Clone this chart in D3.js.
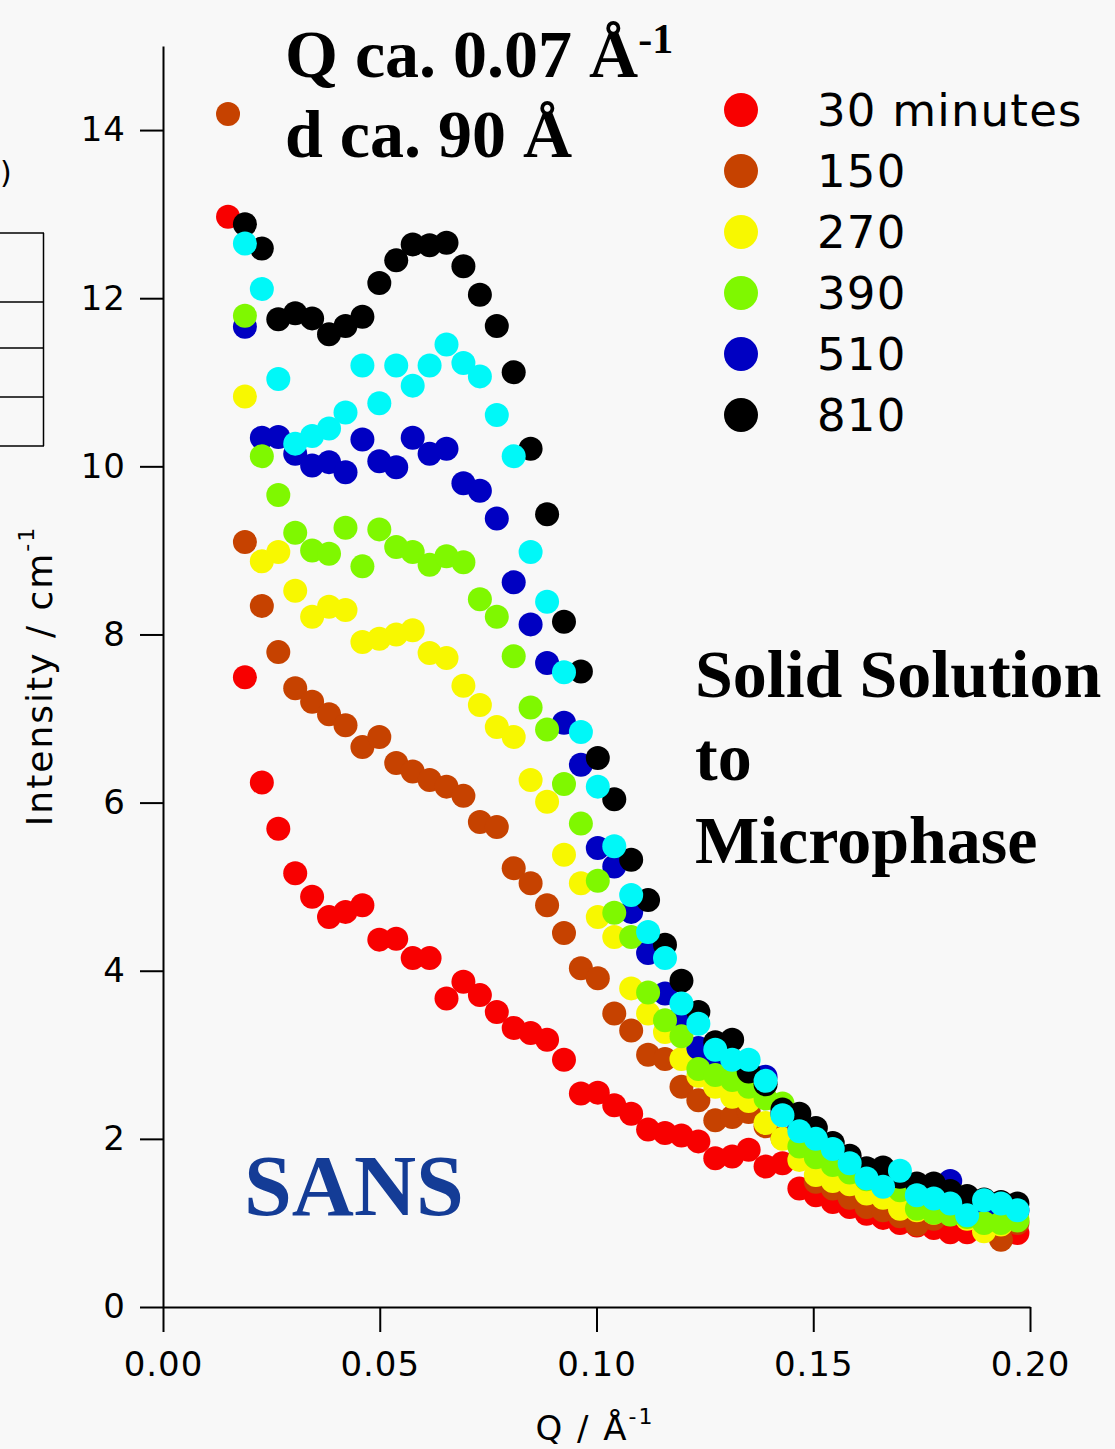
<!DOCTYPE html>
<html>
<head>
<meta charset="utf-8">
<script src="https://cdn.jsdelivr.net/npm/d3@7"></script>
<style>
	body { margin: 0; background: #f8f8f8; }
	svg { display: block; }
</style>
</head>
<body>
<svg id="chart" width="1115" height="1449"></svg>
<script>

// Data

var qValues = [0.0150, 0.0189, 0.0228, 0.0266, 0.0305, 0.0344, 0.0383, 0.0421, 0.0460, 0.0499,
	0.0538, 0.0576, 0.0615, 0.0654, 0.0693, 0.0731, 0.0770, 0.0809, 0.0848, 0.0886,
	0.0925, 0.0964, 0.1003, 0.1041, 0.1080, 0.1119, 0.1158, 0.1196, 0.1235, 0.1274,
	0.1313, 0.1351, 0.1390, 0.1429, 0.1468, 0.1506, 0.1545, 0.1584, 0.1623, 0.1661,
	0.1700, 0.1739, 0.1778, 0.1816, 0.1855, 0.1894, 0.1933, 0.1971];

var int30 = [12.97, 7.49, 6.24, 5.69, 5.16, 4.88, 4.64, 4.70, 4.78, 4.37,
	4.38, 4.15, 4.15, 3.67, 3.87, 3.71, 3.51, 3.32, 3.26, 3.18,
	2.94, 2.54, 2.55, 2.40, 2.30, 2.11, 2.07, 2.04, 1.97, 1.77,
	1.79, 1.87, 1.67, 1.71, 1.41, 1.33, 1.25, 1.19, 1.11, 1.06,
	1.00, 0.97, 0.94, 0.89, 0.89, 0.92, 0.90, 0.88];

var int150 = [14.19, 9.10, 8.34, 7.79, 7.36, 7.20, 7.05, 6.92, 6.66, 6.78,
	6.47, 6.37, 6.27, 6.19, 6.08, 5.77, 5.71, 5.22, 5.04, 4.78,
	4.45, 4.03, 3.91, 3.49, 3.29, 3.00, 2.95, 2.62, 2.46, 2.22,
	2.26, 2.32, 2.15, 2.01, 1.77, 1.49, 1.41, 1.30, 1.19, 1.15,
	1.08, 0.98, 1.05, 1.10, 1.29, 0.95, 0.80, 1.00];

var int270 = [null, 10.83, 8.87, 8.98, 8.52, 8.21, 8.33, 8.29, 7.91, 7.95,
	8.00, 8.05, 7.78, 7.72, 7.39, 7.16, 6.90, 6.78, 6.27, 6.01,
	5.38, 5.04, 4.64, 4.40, 3.79, 3.49, 3.27, 2.95, 2.75, 2.62,
	2.50, 2.45, 2.19, 2.00, 1.75, 1.57, 1.50, 1.46, 1.35, 1.30,
	1.17, 1.15, 1.12, 1.42, 1.05, 0.90, 0.98, 1.05];

var int390 = [null, 11.79, 10.12, 9.66, 9.21, 9.00, 8.96, 9.27, 8.81, 9.25,
	9.04, 8.98, 8.83, 8.93, 8.86, 8.42, 8.21, 7.74, 7.13, 6.87,
	6.22, 5.75, 5.07, 4.69, 4.40, 3.74, 3.41, 3.22, 2.83, 2.76,
	2.70, 2.62, 2.48, 2.42, 1.91, 1.78, 1.69, 1.60, 1.52, 1.45,
	1.39, 1.17, 1.12, 1.10, 1.07, 1.00, 1.00, 1.03];

var int510 = [null, 11.66, 10.34, 10.35, 10.15, 10.01, 10.05, 9.93, 10.32, 10.06,
	9.99, 10.34, 10.15, 10.21, 9.80, 9.71, 9.38, 8.62, 8.12, 7.66,
	6.95, 6.45, 5.46, 5.24, 4.70, 4.21, 3.73, 3.45, 3.08, 2.92,
	2.85, 2.80, 2.74, 2.30, 2.15, 2.00, 1.85, 1.70, 1.55, 1.45,
	1.50, 1.35, 1.30, 1.50, 1.20, 1.20, 1.15, 1.15];

var int810 = [null, 12.88, 12.59, 11.75, 11.82, 11.76, 11.57, 11.67, 11.78, 12.18,
	12.45, 12.64, 12.63, 12.66, 12.38, 12.04, 11.67, 11.12, 10.21, 9.43,
	8.15, 7.56, 6.53, 6.04, 5.32, 4.84, 4.31, 3.88, 3.51, 3.15,
	3.18, 2.80, 2.65, 2.35, 2.30, 2.13, 1.95, 1.80, 1.65, 1.66,
	1.55, 1.47, 1.47, 1.38, 1.32, 1.28, 1.25, 1.23];

// cyan run is on the plot but not in the legend
var intExtra = [null, 12.65, 12.11, 11.04, 10.27, 10.36, 10.45, 10.64, 11.20, 10.75,
	11.20, 10.96, 11.20, 11.45, 11.23, 11.07, 10.61, 10.12, 8.98, 8.39,
	7.55, 6.84, 6.19, 5.48, 4.90, 4.46, 4.15, 3.61, 3.37, 3.06,
	2.94, 2.94, 2.69, 2.28, 2.09, 2.00, 1.88, 1.71, 1.53, 1.43,
	1.62, 1.33, 1.29, 1.23, 1.09, 1.27, 1.23, 1.15];

var legendLabels = ["30 minutes", "150", "270", "390", "510", "810"];
var legendColors = ["#f80000", "#c64200", "#f8f800", "#7ff800", "#0000c2", "#000000"];

var xTicks = [0, 0.05, 0.10, 0.15, 0.20];
var yTicks = [0, 2, 4, 6, 8, 10, 12, 14];

// draw order seen on the plot (green over blue, black over blue, cyan on top)
var series = [
	{ values: int30, color: legendColors[0] },
	{ values: int150, color: legendColors[1] },
	{ values: int270, color: legendColors[2] },
	{ values: int510, color: legendColors[4] },
	{ values: int390, color: legendColors[3] },
	{ values: int810, color: legendColors[5] },
	{ values: intExtra, color: "#00f8f8" }
];

var svg = d3.select("#chart");

svg.append("rect")
	.attr("width", 1115)
	.attr("height", 1449)
	.attr("fill", "#f8f8f8");

var x = d3.scaleLinear().domain([0, 0.2]).range([163, 1030]);
var y = d3.scaleLinear().domain([0, 15]).range([1307, 46]);

// bits of the neighbouring slide element at the left edge
var edge = svg.append("g")
	.attr("stroke", "#000")
	.attr("stroke-width", 1.5)
	.attr("fill", "none");

edge.append("line").attr("x1", 43.5).attr("x2", 43.5).attr("y1", 233).attr("y2", 446);
[233, 302, 348, 397, 446].forEach(function (ly) {
	edge.append("line").attr("x1", 0).attr("x2", 44).attr("y1", ly).attr("y2", ly);
});

svg.append("text")
	.attr("x", 0)
	.attr("y", 183)
	.style("font-family", "DejaVu Sans")
	.style("font-size", "30px")
	.text(")");

// Axes

var yAxis = d3.axisLeft(y)
	.tickValues(yTicks)
	.tickFormat(d3.format("d"))
	.tickSize(23)
	.tickSizeOuter(0)
	.tickPadding(14);

var xAxis = d3.axisBottom(x)
	.tickValues(xTicks)
	.tickFormat(d3.format(".2f"))
	.tickSize(25)
	.tickSizeOuter(0)
	.tickPadding(20);

var gy = svg.append("g")
	.attr("transform", "translate(163,0)")
	.call(yAxis);

var gx = svg.append("g")
	.attr("transform", "translate(0,1307)")
	.call(xAxis);

[gx, gy].forEach(function (g) {
	g.selectAll("path, line")
		.attr("stroke", "#000")
		.attr("stroke-width", 2);
	g.selectAll("text")
		.attr("fill", "#000")
		.style("font-family", "DejaVu Sans")
		.style("font-size", "34px")
		.style("letter-spacing", "1px");
});

var xTitle = svg.append("text")
	.attr("x", 595)
	.attr("y", 1440)
	.attr("text-anchor", "middle")
	.style("font-family", "DejaVu Sans")
	.style("font-size", "34px")
	.style("letter-spacing", "2px");
xTitle.append("tspan").text("Q / Å");
xTitle.append("tspan").attr("dy", -16).style("font-size", "22px").text("-1");

var yTitle = svg.append("text")
	.attr("transform", "translate(52,676) rotate(-90)")
	.attr("text-anchor", "middle")
	.style("font-family", "DejaVu Sans")
	.style("font-size", "36px")
	.style("letter-spacing", "2px");
yTitle.append("tspan").text("Intensity / cm");
yTitle.append("tspan").attr("dy", -18).style("font-size", "22px").text("-1");

// Points

series.forEach(function (s) {
	var pts = s.values
		.map(function (v, i) { return { q: qValues[i], v: v }; })
		.filter(function (d) { return d.v != null; });

	svg.append("g")
		.selectAll("circle")
		.data(pts)
		.enter().append("circle")
		.attr("cx", function (d) { return x(d.q); })
		.attr("cy", function (d) { return y(d.v); })
		.attr("r", 12)
		.attr("fill", s.color);
});

// Legend

var legend = svg.append("g")
	.selectAll("g")
	.data(legendLabels)
	.enter().append("g")
	.attr("transform", function (d, i) { return "translate(741," + (110 + i * 61) + ")"; });

legend.append("circle")
	.attr("r", 17)
	.attr("fill", function (d, i) { return legendColors[i]; });

legend.append("text")
	.attr("x", 76)
	.attr("y", 16)
	.style("font-family", "DejaVu Sans")
	.style("font-size", "45px")
	.style("letter-spacing", "1.2px")
	.text(function (d) { return d; });

// Annotations

var serif = function (sel, size) {
	return sel.style("font-family", "Liberation Serif")
		.style("font-weight", "bold")
		.style("font-size", size + "px");
};

var peak = serif(svg.append("text").attr("x", 285).attr("y", 77), 68);
peak.append("tspan").text("Q ca. 0.07 Å");
peak.append("tspan").attr("dy", -24).style("font-size", "42px").text("-1");

serif(svg.append("text").attr("x", 285).attr("y", 157), 68).text("d ca. 90 Å");

serif(svg.append("text").attr("x", 695).attr("y", 697), 68).text("Solid Solution");
serif(svg.append("text").attr("x", 695).attr("y", 780), 68).text("to");
serif(svg.append("text").attr("x", 695).attr("y", 863), 68).text("Microphase");

serif(svg.append("text").attr("x", 244).attr("y", 1215), 86)
	.attr("fill", "#143c96")
	.text("SANS");

</script>
</body>
</html>
